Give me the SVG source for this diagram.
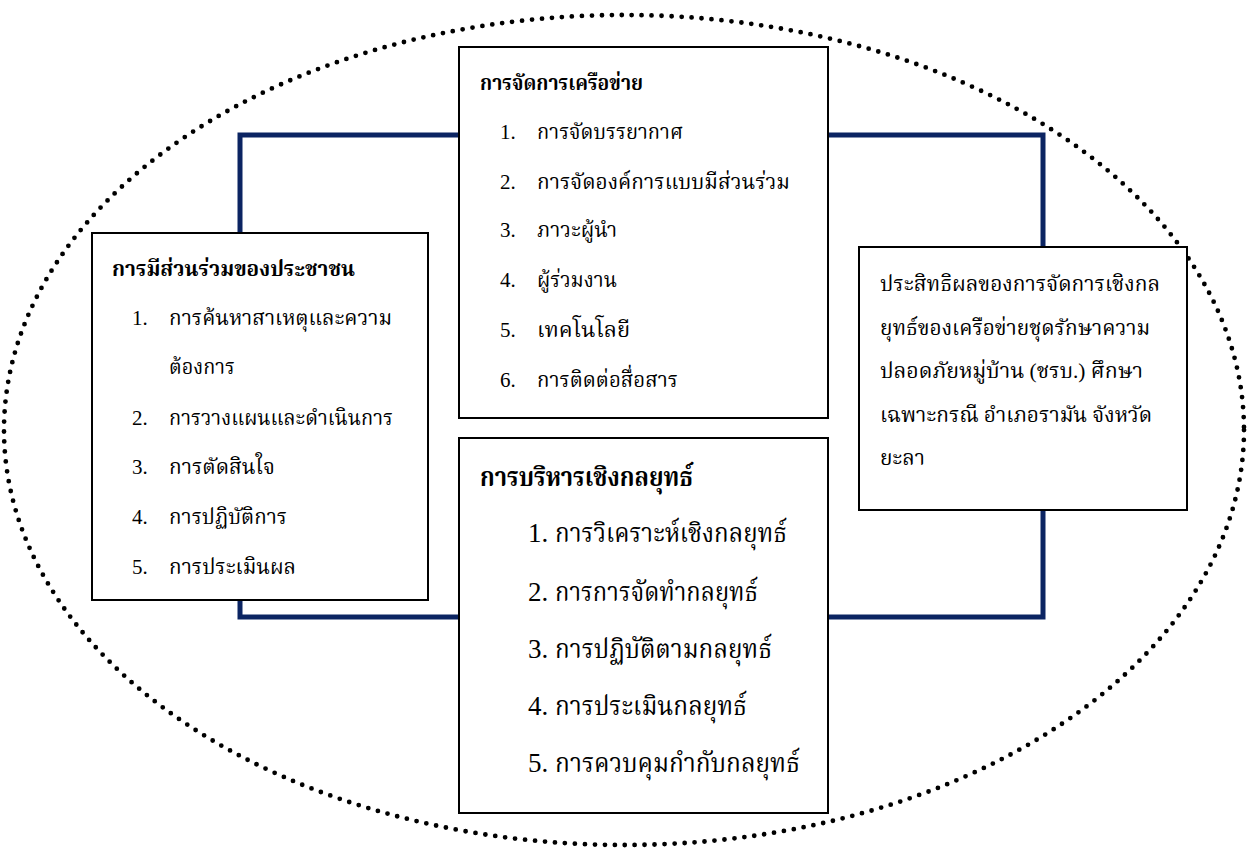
<svg xmlns="http://www.w3.org/2000/svg" width="1248" height="848" viewBox="0 0 1248 848">
<style>
.box{fill:#fff;stroke:#000;stroke-width:2}
.t{font-family:"Liberation Serif","Angsana New","Norasi","Kinnari","TH Sarabun New","Laksaman","Noto Serif Thai","Noto Sans Thai",serif;fill:#000}
.s{font-size:21px}
.b{font-weight:bold}
.L{font-size:27px}
.frame{fill:none;stroke:#0b2462;stroke-width:5}
.dots{fill:none;stroke:#000;stroke-width:4.8;stroke-linecap:round;stroke-dasharray:0 10}
</style>
<rect width="1248" height="848" fill="#fff"/>
<g id="boundary">
<ellipse class="dots" cx="624" cy="430" rx="620" ry="415"/>
</g>
<g id="connectors">
<rect class="frame" x="240" y="135" width="803" height="482"/>
</g>
<g id="network">
<rect class="box" x="459" y="47" width="369" height="371"/>
<text class="t s b" x="480" y="90" textLength="163" lengthAdjust="spacingAndGlyphs">การจัดการเครือข่าย</text>
<text class="t s" x="500" y="139">1.</text><text class="t s" x="537" y="139" textLength="146" lengthAdjust="spacingAndGlyphs">การจัดบรรยากาศ</text>
<text class="t s" x="500" y="189">2.</text><text class="t s" x="537" y="189" textLength="253" lengthAdjust="spacingAndGlyphs">การจัดองค์การแบบมีส่วนร่วม</text>
<text class="t s" x="500" y="237">3.</text><text class="t s" x="537" y="237" textLength="80" lengthAdjust="spacingAndGlyphs">ภาวะผู้นำ</text>
<text class="t s" x="500" y="287">4.</text><text class="t s" x="537" y="287" textLength="80" lengthAdjust="spacingAndGlyphs">ผู้ร่วมงาน</text>
<text class="t s" x="500" y="337">5.</text><text class="t s" x="537" y="337" textLength="93" lengthAdjust="spacingAndGlyphs">เทคโนโลยี</text>
<text class="t s" x="500" y="387">6.</text><text class="t s" x="537" y="387" textLength="141" lengthAdjust="spacingAndGlyphs">การติดต่อสื่อสาร</text>
</g>
<g id="participation">
<rect class="box" x="92" y="233" width="336" height="367"/>
<text class="t s b" x="112" y="276" textLength="243" lengthAdjust="spacingAndGlyphs">การมีส่วนร่วมของประชาชน</text>
<text class="t s" x="132" y="325">1.</text><text class="t s" x="169" y="325" textLength="223" lengthAdjust="spacingAndGlyphs">การค้นหาสาเหตุและความ</text>
<text class="t s" x="169" y="374" textLength="66" lengthAdjust="spacingAndGlyphs">ต้องการ</text>
<text class="t s" x="132" y="425">2.</text><text class="t s" x="169" y="425" textLength="224" lengthAdjust="spacingAndGlyphs">การวางแผนและดำเนินการ</text>
<text class="t s" x="132" y="474">3.</text><text class="t s" x="169" y="474" textLength="106" lengthAdjust="spacingAndGlyphs">การตัดสินใจ</text>
<text class="t s" x="132" y="524">4.</text><text class="t s" x="169" y="524" textLength="118" lengthAdjust="spacingAndGlyphs">การปฏิบัติการ</text>
<text class="t s" x="132" y="574">5.</text><text class="t s" x="169" y="574" textLength="127" lengthAdjust="spacingAndGlyphs">การประเมินผล</text>
</g>
<g id="strategy">
<rect class="box" x="459" y="438" width="369" height="375"/>
<text class="t L b" x="480" y="486" textLength="213" lengthAdjust="spacingAndGlyphs">การบริหารเชิงกลยุทธ์</text>
<text class="t L" x="528" y="542">1.</text><text class="t L" x="555" y="542" textLength="232" lengthAdjust="spacingAndGlyphs">การวิเคราะห์เชิงกลยุทธ์</text>
<text class="t L" x="528" y="601">2.</text><text class="t L" x="555" y="601" textLength="203" lengthAdjust="spacingAndGlyphs">การการจัดทำกลยุทธ์</text>
<text class="t L" x="528" y="658">3.</text><text class="t L" x="555" y="658" textLength="217" lengthAdjust="spacingAndGlyphs">การปฏิบัติตามกลยุทธ์</text>
<text class="t L" x="528" y="715">4.</text><text class="t L" x="555" y="715" textLength="192" lengthAdjust="spacingAndGlyphs">การประเมินกลยุทธ์</text>
<text class="t L" x="528" y="772">5.</text><text class="t L" x="555" y="772" textLength="245" lengthAdjust="spacingAndGlyphs">การควบคุมกำกับกลยุทธ์</text>
</g>
<g id="outcome">
<rect class="box" x="859" y="247" width="328" height="263"/>
<text class="t s" x="880" y="291" textLength="280" lengthAdjust="spacingAndGlyphs">ประสิทธิผลของการจัดการเชิงกล</text>
<text class="t s" x="880" y="335" textLength="270" lengthAdjust="spacingAndGlyphs">ยุทธ์ของเครือข่ายชุดรักษาความ</text>
<text class="t s" x="880" y="378" textLength="263" lengthAdjust="spacingAndGlyphs">ปลอดภัยหมู่บ้าน (ชรบ.) ศึกษา</text>
<text class="t s" x="880" y="422" textLength="272" lengthAdjust="spacingAndGlyphs">เฉพาะกรณี  อำเภอรามัน จังหวัด</text>
<text class="t s" x="880" y="465" textLength="45" lengthAdjust="spacingAndGlyphs">ยะลา</text>
</g>
</svg>
